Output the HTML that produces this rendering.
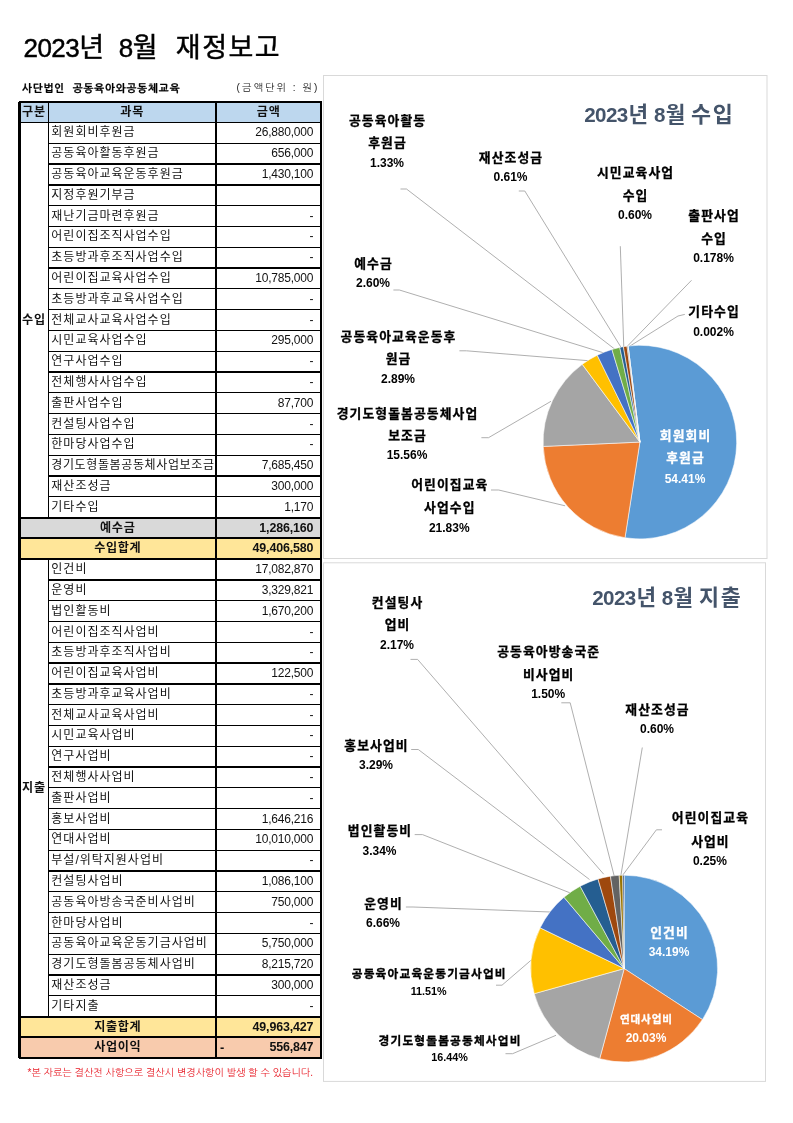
<!DOCTYPE html>
<html lang="ko"><head><meta charset="utf-8"><title>2023년 8월 재정보고</title>
<style>
html,body{margin:0;padding:0;background:#fff;}
body{width:793px;height:1123px;position:relative;overflow:hidden;font-family:"Liberation Sans","Noto Sans CJK KR","NanumGothic",sans-serif;color:#000;}
.abs{position:absolute;}
.title{top:28px;font-size:26px;line-height:40px;white-space:pre;letter-spacing:-0.55px;-webkit-text-stroke:0.45px #000;font-family:"Liberation Sans","Noto Sans CJK KR",sans-serif;}
.title b{font-weight:normal;font-size:27px;letter-spacing:1.5px;}
.org{left:22px;top:80px;font-size:10.5px;line-height:16px;font-weight:bold;white-space:pre;letter-spacing:0.9px;-webkit-text-stroke:0.25px #000;font-family:"Liberation Sans","NanumGothic","Noto Sans CJK KR",sans-serif;}
.unit{left:236.5px;top:80px;font-size:10px;line-height:16px;white-space:pre;letter-spacing:2.1px;color:#222;font-family:"Liberation Sans","NanumGothic","Noto Sans CJK KR",sans-serif;}
.note{left:27.5px;top:1066.3px;font-size:10px;line-height:14px;color:#e8202a;white-space:pre;letter-spacing:0px;font-family:"Liberation Sans","NanumGothic","Noto Sans CJK KR",sans-serif;}
.cell{position:absolute;box-sizing:border-box;white-space:nowrap;font-size:12.85px;color:#111;}
.hl{position:absolute;background:#000;height:1px;}
.vl{position:absolute;background:#000;width:1px;}
.nm{padding-left:3.0px;font-size:12px;letter-spacing:1.0px;}
.am{text-align:right;padding-right:8px;font-size:12px;letter-spacing:-0.2px;}
.b{font-weight:bold;}
.am.b{font-size:12.45px;letter-spacing:-0.15px;}
.c{text-align:center;}
.c.b{font-size:12.1px;letter-spacing:0.7px;}
svg text{font-family:"Liberation Sans","Noto Sans CJK KR","NanumGothic",sans-serif;font-weight:bold;}
</style></head><body>

<div class="abs title" style="left:23.5px">2023<b>년</b></div><div class="abs title" style="left:118.8px">8<b>월</b></div><div class="abs title" style="left:175.8px"><b>재정보고</b></div>
<div class="abs org">사단법인  공동육아와공동체교육</div>
<div class="abs unit">(금액단위 : 원)</div>
<div class="cell c b" style="left:19.60px;top:101.70px;width:28.70px;height:20.79px;line-height:21.79px;background:#BDD7EE;">구분</div>
<div class="cell c b" style="left:48.30px;top:101.70px;width:167.70px;height:20.79px;line-height:21.79px;background:#BDD7EE;">과목</div>
<div class="cell c b" style="left:216.00px;top:101.70px;width:105.30px;height:20.79px;line-height:21.79px;background:#BDD7EE;">금액</div>
<div class="cell nm" style="left:48.30px;top:122.49px;width:167.70px;height:20.79px;line-height:21.79px;">회원회비후원금</div>
<div class="cell am" style="left:216.00px;top:122.49px;width:105.30px;height:20.79px;line-height:21.79px;">26,880,000</div>
<div class="cell nm" style="left:48.30px;top:143.29px;width:167.70px;height:20.79px;line-height:21.79px;">공동육아활동후원금</div>
<div class="cell am" style="left:216.00px;top:143.29px;width:105.30px;height:20.79px;line-height:21.79px;">656,000</div>
<div class="cell nm" style="left:48.30px;top:164.08px;width:167.70px;height:20.79px;line-height:21.79px;">공동육아교육운동후원금</div>
<div class="cell am" style="left:216.00px;top:164.08px;width:105.30px;height:20.79px;line-height:21.79px;">1,430,100</div>
<div class="cell nm" style="left:48.30px;top:184.87px;width:167.70px;height:20.79px;line-height:21.79px;">지정후원기부금</div>
<div class="cell am" style="left:216.00px;top:184.87px;width:105.30px;height:20.79px;line-height:21.79px;"></div>
<div class="cell nm" style="left:48.30px;top:205.67px;width:167.70px;height:20.79px;line-height:21.79px;">재난기금마련후원금</div>
<div class="cell am" style="left:216.00px;top:205.67px;width:105.30px;height:20.79px;line-height:21.79px;">-</div>
<div class="cell nm" style="left:48.30px;top:226.46px;width:167.70px;height:20.79px;line-height:21.79px;">어린이집조직사업수입</div>
<div class="cell am" style="left:216.00px;top:226.46px;width:105.30px;height:20.79px;line-height:21.79px;">-</div>
<div class="cell nm" style="left:48.30px;top:247.25px;width:167.70px;height:20.79px;line-height:21.79px;">초등방과후조직사업수입</div>
<div class="cell am" style="left:216.00px;top:247.25px;width:105.30px;height:20.79px;line-height:21.79px;">-</div>
<div class="cell nm" style="left:48.30px;top:268.04px;width:167.70px;height:20.79px;line-height:21.79px;">어린이집교육사업수입</div>
<div class="cell am" style="left:216.00px;top:268.04px;width:105.30px;height:20.79px;line-height:21.79px;">10,785,000</div>
<div class="cell nm" style="left:48.30px;top:288.84px;width:167.70px;height:20.79px;line-height:21.79px;">초등방과후교육사업수입</div>
<div class="cell am" style="left:216.00px;top:288.84px;width:105.30px;height:20.79px;line-height:21.79px;">-</div>
<div class="cell nm" style="left:48.30px;top:309.63px;width:167.70px;height:20.79px;line-height:21.79px;">전체교사교육사업수입</div>
<div class="cell am" style="left:216.00px;top:309.63px;width:105.30px;height:20.79px;line-height:21.79px;">-</div>
<div class="cell nm" style="left:48.30px;top:330.42px;width:167.70px;height:20.79px;line-height:21.79px;">시민교육사업수입</div>
<div class="cell am" style="left:216.00px;top:330.42px;width:105.30px;height:20.79px;line-height:21.79px;">295,000</div>
<div class="cell nm" style="left:48.30px;top:351.22px;width:167.70px;height:20.79px;line-height:21.79px;">연구사업수입</div>
<div class="cell am" style="left:216.00px;top:351.22px;width:105.30px;height:20.79px;line-height:21.79px;">-</div>
<div class="cell nm" style="left:48.30px;top:372.01px;width:167.70px;height:20.79px;line-height:21.79px;">전체행사사업수입</div>
<div class="cell am" style="left:216.00px;top:372.01px;width:105.30px;height:20.79px;line-height:21.79px;">-</div>
<div class="cell nm" style="left:48.30px;top:392.80px;width:167.70px;height:20.79px;line-height:21.79px;">출판사업수입</div>
<div class="cell am" style="left:216.00px;top:392.80px;width:105.30px;height:20.79px;line-height:21.79px;">87,700</div>
<div class="cell nm" style="left:48.30px;top:413.59px;width:167.70px;height:20.79px;line-height:21.79px;">컨설팅사업수입</div>
<div class="cell am" style="left:216.00px;top:413.59px;width:105.30px;height:20.79px;line-height:21.79px;">-</div>
<div class="cell nm" style="left:48.30px;top:434.39px;width:167.70px;height:20.79px;line-height:21.79px;">한마당사업수입</div>
<div class="cell am" style="left:216.00px;top:434.39px;width:105.30px;height:20.79px;line-height:21.79px;">-</div>
<div class="cell nm" style="left:48.30px;top:455.18px;width:167.70px;height:20.79px;line-height:21.79px;letter-spacing:0.62px;">경기도형돌봄공동체사업보조금</div>
<div class="cell am" style="left:216.00px;top:455.18px;width:105.30px;height:20.79px;line-height:21.79px;">7,685,450</div>
<div class="cell nm" style="left:48.30px;top:475.97px;width:167.70px;height:20.79px;line-height:21.79px;">재산조성금</div>
<div class="cell am" style="left:216.00px;top:475.97px;width:105.30px;height:20.79px;line-height:21.79px;">300,000</div>
<div class="cell nm" style="left:48.30px;top:496.77px;width:167.70px;height:20.79px;line-height:21.79px;">기타수입</div>
<div class="cell am" style="left:216.00px;top:496.77px;width:105.30px;height:20.79px;line-height:21.79px;">1,170</div>
<div class="cell " style="left:19.60px;top:517.56px;width:301.70px;height:20.79px;line-height:21.79px;background:#D9D9D9;"></div>
<div class="cell c b" style="left:19.60px;top:517.56px;width:196.40px;height:20.79px;line-height:21.79px;">예수금</div>
<div class="cell am b" style="left:216.00px;top:517.56px;width:105.30px;height:20.79px;line-height:21.79px;">1,286,160</div>
<div class="cell " style="left:19.60px;top:538.35px;width:301.70px;height:20.79px;line-height:21.79px;background:#FFE699;"></div>
<div class="cell c b" style="left:19.60px;top:538.35px;width:196.40px;height:20.79px;line-height:21.79px;">수입합계</div>
<div class="cell am b" style="left:216.00px;top:538.35px;width:105.30px;height:20.79px;line-height:21.79px;">49,406,580</div>
<div class="cell nm" style="left:48.30px;top:559.15px;width:167.70px;height:20.79px;line-height:21.79px;">인건비</div>
<div class="cell am" style="left:216.00px;top:559.15px;width:105.30px;height:20.79px;line-height:21.79px;">17,082,870</div>
<div class="cell nm" style="left:48.30px;top:579.94px;width:167.70px;height:20.79px;line-height:21.79px;">운영비</div>
<div class="cell am" style="left:216.00px;top:579.94px;width:105.30px;height:20.79px;line-height:21.79px;">3,329,821</div>
<div class="cell nm" style="left:48.30px;top:600.73px;width:167.70px;height:20.79px;line-height:21.79px;">법인활동비</div>
<div class="cell am" style="left:216.00px;top:600.73px;width:105.30px;height:20.79px;line-height:21.79px;">1,670,200</div>
<div class="cell nm" style="left:48.30px;top:621.52px;width:167.70px;height:20.79px;line-height:21.79px;">어린이집조직사업비</div>
<div class="cell am" style="left:216.00px;top:621.52px;width:105.30px;height:20.79px;line-height:21.79px;">-</div>
<div class="cell nm" style="left:48.30px;top:642.32px;width:167.70px;height:20.79px;line-height:21.79px;">초등방과후조직사업비</div>
<div class="cell am" style="left:216.00px;top:642.32px;width:105.30px;height:20.79px;line-height:21.79px;">-</div>
<div class="cell nm" style="left:48.30px;top:663.11px;width:167.70px;height:20.79px;line-height:21.79px;">어린이집교육사업비</div>
<div class="cell am" style="left:216.00px;top:663.11px;width:105.30px;height:20.79px;line-height:21.79px;">122,500</div>
<div class="cell nm" style="left:48.30px;top:683.90px;width:167.70px;height:20.79px;line-height:21.79px;">초등방과후교육사업비</div>
<div class="cell am" style="left:216.00px;top:683.90px;width:105.30px;height:20.79px;line-height:21.79px;">-</div>
<div class="cell nm" style="left:48.30px;top:704.70px;width:167.70px;height:20.79px;line-height:21.79px;">전체교사교육사업비</div>
<div class="cell am" style="left:216.00px;top:704.70px;width:105.30px;height:20.79px;line-height:21.79px;">-</div>
<div class="cell nm" style="left:48.30px;top:725.49px;width:167.70px;height:20.79px;line-height:21.79px;">시민교육사업비</div>
<div class="cell am" style="left:216.00px;top:725.49px;width:105.30px;height:20.79px;line-height:21.79px;">-</div>
<div class="cell nm" style="left:48.30px;top:746.28px;width:167.70px;height:20.79px;line-height:21.79px;">연구사업비</div>
<div class="cell am" style="left:216.00px;top:746.28px;width:105.30px;height:20.79px;line-height:21.79px;">-</div>
<div class="cell nm" style="left:48.30px;top:767.08px;width:167.70px;height:20.79px;line-height:21.79px;">전체행사사업비</div>
<div class="cell am" style="left:216.00px;top:767.08px;width:105.30px;height:20.79px;line-height:21.79px;">-</div>
<div class="cell nm" style="left:48.30px;top:787.87px;width:167.70px;height:20.79px;line-height:21.79px;">출판사업비</div>
<div class="cell am" style="left:216.00px;top:787.87px;width:105.30px;height:20.79px;line-height:21.79px;">-</div>
<div class="cell nm" style="left:48.30px;top:808.66px;width:167.70px;height:20.79px;line-height:21.79px;">홍보사업비</div>
<div class="cell am" style="left:216.00px;top:808.66px;width:105.30px;height:20.79px;line-height:21.79px;">1,646,216</div>
<div class="cell nm" style="left:48.30px;top:829.46px;width:167.70px;height:20.79px;line-height:21.79px;">연대사업비</div>
<div class="cell am" style="left:216.00px;top:829.46px;width:105.30px;height:20.79px;line-height:21.79px;">10,010,000</div>
<div class="cell nm" style="left:48.30px;top:850.25px;width:167.70px;height:20.79px;line-height:21.79px;">부설/위탁지원사업비</div>
<div class="cell am" style="left:216.00px;top:850.25px;width:105.30px;height:20.79px;line-height:21.79px;">-</div>
<div class="cell nm" style="left:48.30px;top:871.04px;width:167.70px;height:20.79px;line-height:21.79px;">컨설팅사업비</div>
<div class="cell am" style="left:216.00px;top:871.04px;width:105.30px;height:20.79px;line-height:21.79px;">1,086,100</div>
<div class="cell nm" style="left:48.30px;top:891.83px;width:167.70px;height:20.79px;line-height:21.79px;">공동육아방송국준비사업비</div>
<div class="cell am" style="left:216.00px;top:891.83px;width:105.30px;height:20.79px;line-height:21.79px;">750,000</div>
<div class="cell nm" style="left:48.30px;top:912.63px;width:167.70px;height:20.79px;line-height:21.79px;">한마당사업비</div>
<div class="cell am" style="left:216.00px;top:912.63px;width:105.30px;height:20.79px;line-height:21.79px;">-</div>
<div class="cell nm" style="left:48.30px;top:933.42px;width:167.70px;height:20.79px;line-height:21.79px;">공동육아교육운동기금사업비</div>
<div class="cell am" style="left:216.00px;top:933.42px;width:105.30px;height:20.79px;line-height:21.79px;">5,750,000</div>
<div class="cell nm" style="left:48.30px;top:954.21px;width:167.70px;height:20.79px;line-height:21.79px;">경기도형돌봄공동체사업비</div>
<div class="cell am" style="left:216.00px;top:954.21px;width:105.30px;height:20.79px;line-height:21.79px;">8,215,720</div>
<div class="cell nm" style="left:48.30px;top:975.01px;width:167.70px;height:20.79px;line-height:21.79px;">재산조성금</div>
<div class="cell am" style="left:216.00px;top:975.01px;width:105.30px;height:20.79px;line-height:21.79px;">300,000</div>
<div class="cell nm" style="left:48.30px;top:995.80px;width:167.70px;height:20.79px;line-height:21.79px;">기타지출</div>
<div class="cell am" style="left:216.00px;top:995.80px;width:105.30px;height:20.79px;line-height:21.79px;">-</div>
<div class="cell " style="left:19.60px;top:1016.59px;width:301.70px;height:20.79px;line-height:21.79px;background:#FFE699;"></div>
<div class="cell c b" style="left:19.60px;top:1016.59px;width:196.40px;height:20.79px;line-height:21.79px;">지출합계</div>
<div class="cell am b" style="left:216.00px;top:1016.59px;width:105.30px;height:20.79px;line-height:21.79px;">49,963,427</div>
<div class="cell " style="left:19.60px;top:1037.38px;width:301.70px;height:20.79px;line-height:21.79px;background:#F8CBAD;"></div>
<div class="cell c b" style="left:19.60px;top:1037.38px;width:196.40px;height:20.79px;line-height:21.79px;">사업이익</div>
<div class="cell am b" style="left:216.00px;top:1037.38px;width:105.30px;height:20.79px;line-height:21.79px;">556,847</div>
<div class="cell b" style="left:216.00px;top:1037.38px;width:105.30px;height:20.79px;line-height:21.79px;padding-left:4px;">-</div>
<div class="cell c b" style="left:19.60px;top:122.49px;width:28.70px;height:395.07px;line-height:396.07px;">수입</div>
<div class="cell c b" style="left:19.60px;top:559.15px;width:28.70px;height:457.45px;line-height:458.45px;">지출</div>
<div class="hl" style="left:18.50px;top:100.55px;width:303.90px;height:2.3px"></div>
<div class="hl" style="left:19.60px;top:121.69px;width:301.70px;height:1.6px"></div>
<div class="hl" style="left:48.30px;top:142.66px;width:273.00px;height:1.25px"></div>
<div class="hl" style="left:48.30px;top:163.45px;width:273.00px;height:1.25px"></div>
<div class="hl" style="left:48.30px;top:184.25px;width:273.00px;height:1.25px"></div>
<div class="hl" style="left:48.30px;top:205.04px;width:273.00px;height:1.25px"></div>
<div class="hl" style="left:48.30px;top:225.83px;width:273.00px;height:1.25px"></div>
<div class="hl" style="left:48.30px;top:246.63px;width:273.00px;height:1.25px"></div>
<div class="hl" style="left:48.30px;top:267.42px;width:273.00px;height:1.25px"></div>
<div class="hl" style="left:48.30px;top:288.21px;width:273.00px;height:1.25px"></div>
<div class="hl" style="left:48.30px;top:309.00px;width:273.00px;height:1.25px"></div>
<div class="hl" style="left:48.30px;top:329.80px;width:273.00px;height:1.25px"></div>
<div class="hl" style="left:48.30px;top:350.59px;width:273.00px;height:1.25px"></div>
<div class="hl" style="left:48.30px;top:371.38px;width:273.00px;height:1.25px"></div>
<div class="hl" style="left:48.30px;top:392.18px;width:273.00px;height:1.25px"></div>
<div class="hl" style="left:48.30px;top:412.97px;width:273.00px;height:1.25px"></div>
<div class="hl" style="left:48.30px;top:433.76px;width:273.00px;height:1.25px"></div>
<div class="hl" style="left:48.30px;top:454.56px;width:273.00px;height:1.25px"></div>
<div class="hl" style="left:48.30px;top:475.35px;width:273.00px;height:1.25px"></div>
<div class="hl" style="left:48.30px;top:496.14px;width:273.00px;height:1.25px"></div>
<div class="hl" style="left:19.60px;top:516.56px;width:301.70px;height:2.0px"></div>
<div class="hl" style="left:19.60px;top:537.35px;width:301.70px;height:2.0px"></div>
<div class="hl" style="left:19.60px;top:558.15px;width:301.70px;height:2.0px"></div>
<div class="hl" style="left:48.30px;top:579.31px;width:273.00px;height:1.25px"></div>
<div class="hl" style="left:48.30px;top:600.11px;width:273.00px;height:1.25px"></div>
<div class="hl" style="left:48.30px;top:620.90px;width:273.00px;height:1.25px"></div>
<div class="hl" style="left:48.30px;top:641.69px;width:273.00px;height:1.25px"></div>
<div class="hl" style="left:48.30px;top:662.49px;width:273.00px;height:1.25px"></div>
<div class="hl" style="left:48.30px;top:683.28px;width:273.00px;height:1.25px"></div>
<div class="hl" style="left:48.30px;top:704.07px;width:273.00px;height:1.25px"></div>
<div class="hl" style="left:48.30px;top:724.87px;width:273.00px;height:1.25px"></div>
<div class="hl" style="left:48.30px;top:745.66px;width:273.00px;height:1.25px"></div>
<div class="hl" style="left:48.30px;top:766.45px;width:273.00px;height:1.25px"></div>
<div class="hl" style="left:48.30px;top:787.24px;width:273.00px;height:1.25px"></div>
<div class="hl" style="left:48.30px;top:808.04px;width:273.00px;height:1.25px"></div>
<div class="hl" style="left:48.30px;top:828.83px;width:273.00px;height:1.25px"></div>
<div class="hl" style="left:48.30px;top:849.62px;width:273.00px;height:1.25px"></div>
<div class="hl" style="left:48.30px;top:870.42px;width:273.00px;height:1.25px"></div>
<div class="hl" style="left:48.30px;top:891.21px;width:273.00px;height:1.25px"></div>
<div class="hl" style="left:48.30px;top:912.00px;width:273.00px;height:1.25px"></div>
<div class="hl" style="left:48.30px;top:932.80px;width:273.00px;height:1.25px"></div>
<div class="hl" style="left:48.30px;top:953.59px;width:273.00px;height:1.25px"></div>
<div class="hl" style="left:48.30px;top:974.38px;width:273.00px;height:1.25px"></div>
<div class="hl" style="left:48.30px;top:995.17px;width:273.00px;height:1.25px"></div>
<div class="hl" style="left:19.60px;top:1015.59px;width:301.70px;height:2.0px"></div>
<div class="hl" style="left:19.60px;top:1036.38px;width:301.70px;height:2.0px"></div>
<div class="hl" style="left:18.50px;top:1057.03px;width:303.90px;height:2.3px"></div>
<div class="vl" style="left:18.45px;top:101.70px;height:956.48px;width:2.3px"></div>
<div class="vl" style="left:320.15px;top:101.70px;height:956.48px;width:2.3px"></div>
<div class="vl" style="left:215.30px;top:101.70px;height:956.48px;width:1.4px"></div>
<div class="vl" style="left:47.55px;top:101.70px;height:415.86px;width:1.5px"></div>
<div class="vl" style="left:47.55px;top:559.15px;height:457.45px;width:1.5px"></div>
<div class="abs note">*본 자료는 결산전 사항으로 결산시 변경사항이 발생 할 수 있습니다.</div>
<svg class="abs" style="left:0;top:0" width="793" height="1123" viewBox="0 0 793 1123">
<rect x="323.5" y="75.5" width="443.5" height="483" fill="#fff" stroke="#D9D9D9" stroke-width="1"/>
<rect x="323.5" y="562.8" width="442" height="518.6" fill="#fff" stroke="#D9D9D9" stroke-width="1"/>
<text y="121.7" fill="#44546A" font-size="20.6"><tspan x="584.2" letter-spacing="-0.6">2023</tspan><tspan font-size="21.3" dx="0.8">년</tspan><tspan x="654.0">8</tspan><tspan font-size="21.3" dx="0.2">월</tspan><tspan x="691.0" font-size="21.8" letter-spacing="1.6">수입</tspan></text>
<text y="605.3" fill="#44546A" font-size="20.6"><tspan x="592.2" letter-spacing="-0.6">2023</tspan><tspan font-size="21.3" dx="0.8">년</tspan><tspan x="661.8">8</tspan><tspan font-size="21.3" dx="0.2">월</tspan><tspan x="699.0" font-size="21.8" letter-spacing="1.6">지출</tspan></text>
<path d="M400.5,189.0 L406.5,189.0 L615.9,350.0" fill="none" stroke="#A6A6A6" stroke-width="0.9"/>
<path d="M518.8,191.0 L524.8,191.0 L621.2,347.6" fill="none" stroke="#A6A6A6" stroke-width="0.9"/>
<path d="M620.3,246.2 L623.8,347.4" fill="none" stroke="#A6A6A6" stroke-width="0.9"/>
<path d="M691.5,280.3 L626.2,347.4" fill="none" stroke="#A6A6A6" stroke-width="0.9"/>
<path d="M684.8,314.4 L678.0,316.0 L627.8,347.4" fill="none" stroke="#A6A6A6" stroke-width="0.9"/>
<path d="M393.4,290.0 L399.4,290.0 L606.0,353.6" fill="none" stroke="#A6A6A6" stroke-width="0.9"/>
<path d="M459.4,350.8 L466.5,350.8 L588.3,360.7" fill="none" stroke="#A6A6A6" stroke-width="0.9"/>
<path d="M481.4,437.7 L488.5,437.7 L551.0,401.3" fill="none" stroke="#A6A6A6" stroke-width="0.9"/>
<path d="M491.0,490.0 L498.7,490.0 L565.1,505.8" fill="none" stroke="#A6A6A6" stroke-width="0.9"/>
<path d="M639.90,442.10L628.10,346.02A96.8,96.8 0 1 1 625.00,537.75Z" fill="#5B9BD5" stroke="#fff" stroke-width="0.55" stroke-linejoin="round"/>
<path d="M639.90,442.10L625.00,537.75A96.8,96.8 0 0 1 543.20,446.43Z" fill="#ED7D31" stroke="#fff" stroke-width="0.55" stroke-linejoin="round"/>
<path d="M639.90,442.10L543.20,446.43A96.8,96.8 0 0 1 582.25,364.34Z" fill="#A5A5A5" stroke="#fff" stroke-width="0.55" stroke-linejoin="round"/>
<path d="M639.90,442.10L582.25,364.34A96.8,96.8 0 0 1 597.24,355.21Z" fill="#FFC000" stroke="#fff" stroke-width="0.55" stroke-linejoin="round"/>
<path d="M639.90,442.10L597.24,355.21A96.8,96.8 0 0 1 611.94,349.43Z" fill="#4472C4" stroke="#fff" stroke-width="0.55" stroke-linejoin="round"/>
<path d="M639.90,442.10L611.94,349.43A96.8,96.8 0 0 1 619.77,347.42Z" fill="#70AD47" stroke="#fff" stroke-width="0.55" stroke-linejoin="round"/>
<path d="M639.90,442.10L619.77,347.42A96.8,96.8 0 0 1 623.41,346.71Z" fill="#255E91" stroke="#fff" stroke-width="0.55" stroke-linejoin="round"/>
<path d="M639.90,442.10L623.41,346.71A96.8,96.8 0 0 1 627.02,346.16Z" fill="#9E480E" stroke="#fff" stroke-width="0.55" stroke-linejoin="round"/>
<path d="M639.90,442.10L627.02,346.16A96.8,96.8 0 0 1 628.09,346.02Z" fill="#636363" stroke="#fff" stroke-width="0.55" stroke-linejoin="round"/>
<path d="M639.90,442.10L628.09,346.02A96.8,96.8 0 0 1 628.10,346.02Z" fill="#997300" stroke="#fff" stroke-width="0.55" stroke-linejoin="round"/>
<text x="387.55" y="120" font-size="12.8" fill="#000" text-anchor="middle" dominant-baseline="central" letter-spacing="1.1" stroke="#000" stroke-width="0.3">공동육아활동</text>
<text x="387.55" y="142.5" font-size="12.8" fill="#000" text-anchor="middle" dominant-baseline="central" letter-spacing="1.1" stroke="#000" stroke-width="0.3">후원금</text>
<text x="387.00" y="163.3" font-size="12" fill="#000" text-anchor="middle" dominant-baseline="central">1.33%</text>
<text x="511.05" y="157.2" font-size="12.8" fill="#000" text-anchor="middle" dominant-baseline="central" letter-spacing="1.1" stroke="#000" stroke-width="0.3">재산조성금</text>
<text x="510.50" y="176.8" font-size="12" fill="#000" text-anchor="middle" dominant-baseline="central">0.61%</text>
<text x="635.55" y="172.8" font-size="12.8" fill="#000" text-anchor="middle" dominant-baseline="central" letter-spacing="1.1" stroke="#000" stroke-width="0.3">시민교육사업</text>
<text x="635.55" y="195" font-size="12.8" fill="#000" text-anchor="middle" dominant-baseline="central" letter-spacing="1.1" stroke="#000" stroke-width="0.3">수입</text>
<text x="635.00" y="215.3" font-size="12" fill="#000" text-anchor="middle" dominant-baseline="central">0.60%</text>
<text x="714.05" y="215.3" font-size="12.8" fill="#000" text-anchor="middle" dominant-baseline="central" letter-spacing="1.1" stroke="#000" stroke-width="0.3">출판사업</text>
<text x="714.05" y="238" font-size="12.8" fill="#000" text-anchor="middle" dominant-baseline="central" letter-spacing="1.1" stroke="#000" stroke-width="0.3">수입</text>
<text x="713.50" y="258.2" font-size="12" fill="#000" text-anchor="middle" dominant-baseline="central">0.178%</text>
<text x="714.05" y="311.2" font-size="12.8" fill="#000" text-anchor="middle" dominant-baseline="central" letter-spacing="1.1" stroke="#000" stroke-width="0.3">기타수입</text>
<text x="713.50" y="331.8" font-size="12" fill="#000" text-anchor="middle" dominant-baseline="central">0.002%</text>
<text x="373.55" y="263" font-size="12.8" fill="#000" text-anchor="middle" dominant-baseline="central" letter-spacing="1.1" stroke="#000" stroke-width="0.3">예수금</text>
<text x="373.00" y="283" font-size="12" fill="#000" text-anchor="middle" dominant-baseline="central">2.60%</text>
<text x="398.55" y="336" font-size="12.8" fill="#000" text-anchor="middle" dominant-baseline="central" letter-spacing="1.1" stroke="#000" stroke-width="0.3">공동육아교육운동후</text>
<text x="398.55" y="358" font-size="12.8" fill="#000" text-anchor="middle" dominant-baseline="central" letter-spacing="1.1" stroke="#000" stroke-width="0.3">원금</text>
<text x="398.00" y="379" font-size="12" fill="#000" text-anchor="middle" dominant-baseline="central">2.89%</text>
<text x="407.55" y="413.7" font-size="12.8" fill="#000" text-anchor="middle" dominant-baseline="central" letter-spacing="1.1" stroke="#000" stroke-width="0.3">경기도형돌봄공동체사업</text>
<text x="407.55" y="435.9" font-size="12.8" fill="#000" text-anchor="middle" dominant-baseline="central" letter-spacing="1.1" stroke="#000" stroke-width="0.3">보조금</text>
<text x="407.00" y="455.3" font-size="12" fill="#000" text-anchor="middle" dominant-baseline="central">15.56%</text>
<text x="449.85" y="484.6" font-size="12.8" fill="#000" text-anchor="middle" dominant-baseline="central" letter-spacing="1.1" stroke="#000" stroke-width="0.3">어린이집교육</text>
<text x="449.85" y="507.2" font-size="12.8" fill="#000" text-anchor="middle" dominant-baseline="central" letter-spacing="1.1" stroke="#000" stroke-width="0.3">사업수입</text>
<text x="449.30" y="527.7" font-size="12" fill="#000" text-anchor="middle" dominant-baseline="central">21.83%</text>
<text x="685.55" y="435.8" font-size="12.8" fill="#fff" text-anchor="middle" dominant-baseline="central" letter-spacing="1.1" stroke="#fff" stroke-width="0.3">회원회비</text>
<text x="685.55" y="457.6" font-size="12.8" fill="#fff" text-anchor="middle" dominant-baseline="central" letter-spacing="1.1" stroke="#fff" stroke-width="0.3">후원금</text>
<text x="685.00" y="478.9" font-size="12" fill="#fff" text-anchor="middle" dominant-baseline="central">54.41%</text>
<path d="M410.5,659.4 L417.6,659.4 L603.7,874.2" fill="none" stroke="#A6A6A6" stroke-width="0.9"/>
<path d="M561.3,702.8 L570.2,702.8 L614.4,876.8" fill="none" stroke="#A6A6A6" stroke-width="0.9"/>
<path d="M642.3,747.5 L620.8,875.9" fill="none" stroke="#A6A6A6" stroke-width="0.9"/>
<path d="M662.0,829.8 L656.4,829.8 L622.6,875.3" fill="none" stroke="#A6A6A6" stroke-width="0.9"/>
<path d="M411.2,749.5 L418.3,749.5 L589.5,879.5" fill="none" stroke="#A6A6A6" stroke-width="0.9"/>
<path d="M414.7,834.6 L422.5,834.6 L570.1,892.9" fill="none" stroke="#A6A6A6" stroke-width="0.9"/>
<path d="M405.9,907.0 L413.0,907.0 L550.7,912.0" fill="none" stroke="#A6A6A6" stroke-width="0.9"/>
<path d="M496.0,985.2 L502.0,985.2 L532.0,959.4" fill="none" stroke="#A6A6A6" stroke-width="0.9"/>
<path d="M505.5,1053.7 L512.6,1053.7 L556.0,1035.3" fill="none" stroke="#A6A6A6" stroke-width="0.9"/>
<path d="M624.20,968.60L624.20,875.20A93.4,93.4 0 0 1 702.44,1019.62Z" fill="#5B9BD5" stroke="#fff" stroke-width="0.55" stroke-linejoin="round"/>
<path d="M624.20,968.60L702.44,1019.62A93.4,93.4 0 0 1 599.66,1058.72Z" fill="#ED7D31" stroke="#fff" stroke-width="0.55" stroke-linejoin="round"/>
<path d="M624.20,968.60L599.66,1058.72A93.4,93.4 0 0 1 534.23,993.67Z" fill="#A5A5A5" stroke="#fff" stroke-width="0.55" stroke-linejoin="round"/>
<path d="M624.20,968.60L534.23,993.67A93.4,93.4 0 0 1 540.16,927.84Z" fill="#FFC000" stroke="#fff" stroke-width="0.55" stroke-linejoin="round"/>
<path d="M624.20,968.60L540.16,927.84A93.4,93.4 0 0 1 563.98,897.21Z" fill="#4472C4" stroke="#fff" stroke-width="0.55" stroke-linejoin="round"/>
<path d="M624.20,968.60L563.98,897.21A93.4,93.4 0 0 1 580.18,886.23Z" fill="#70AD47" stroke="#fff" stroke-width="0.55" stroke-linejoin="round"/>
<path d="M624.20,968.60L580.18,886.23A93.4,93.4 0 0 1 598.02,878.94Z" fill="#255E91" stroke="#fff" stroke-width="0.55" stroke-linejoin="round"/>
<path d="M624.20,968.60L598.02,878.94A93.4,93.4 0 0 1 610.46,876.22Z" fill="#9E480E" stroke="#fff" stroke-width="0.55" stroke-linejoin="round"/>
<path d="M624.20,968.60L610.46,876.22A93.4,93.4 0 0 1 619.21,875.33Z" fill="#636363" stroke="#fff" stroke-width="0.55" stroke-linejoin="round"/>
<path d="M624.20,968.60L619.21,875.33A93.4,93.4 0 0 1 622.73,875.21Z" fill="#997300" stroke="#fff" stroke-width="0.55" stroke-linejoin="round"/>
<path d="M624.20,968.60L622.73,875.21A93.4,93.4 0 0 1 624.20,875.20Z" fill="#264478" stroke="#fff" stroke-width="0.55" stroke-linejoin="round"/>
<text x="397.55" y="602" font-size="12.8" fill="#000" text-anchor="middle" dominant-baseline="central" letter-spacing="1.1" stroke="#000" stroke-width="0.3">컨설팅사</text>
<text x="397.55" y="624.8" font-size="12.8" fill="#000" text-anchor="middle" dominant-baseline="central" letter-spacing="1.1" stroke="#000" stroke-width="0.3">업비</text>
<text x="397.00" y="644.6" font-size="12" fill="#000" text-anchor="middle" dominant-baseline="central">2.17%</text>
<text x="548.75" y="651.7" font-size="12.8" fill="#000" text-anchor="middle" dominant-baseline="central" letter-spacing="1.1" stroke="#000" stroke-width="0.3">공동육아방송국준</text>
<text x="548.75" y="674.6" font-size="12.8" fill="#000" text-anchor="middle" dominant-baseline="central" letter-spacing="1.1" stroke="#000" stroke-width="0.3">비사업비</text>
<text x="548.20" y="694" font-size="12" fill="#000" text-anchor="middle" dominant-baseline="central">1.50%</text>
<text x="657.55" y="709" font-size="12.8" fill="#000" text-anchor="middle" dominant-baseline="central" letter-spacing="1.1" stroke="#000" stroke-width="0.3">재산조성금</text>
<text x="657.00" y="729" font-size="12" fill="#000" text-anchor="middle" dominant-baseline="central">0.60%</text>
<text x="710.45" y="817.7" font-size="12.8" fill="#000" text-anchor="middle" dominant-baseline="central" letter-spacing="1.1" stroke="#000" stroke-width="0.3">어린이집교육</text>
<text x="710.45" y="841.2" font-size="12.8" fill="#000" text-anchor="middle" dominant-baseline="central" letter-spacing="1.1" stroke="#000" stroke-width="0.3">사업비</text>
<text x="709.90" y="860.6" font-size="12" fill="#000" text-anchor="middle" dominant-baseline="central">0.25%</text>
<text x="376.55" y="745.3" font-size="12.8" fill="#000" text-anchor="middle" dominant-baseline="central" letter-spacing="1.1" stroke="#000" stroke-width="0.3">홍보사업비</text>
<text x="376.00" y="764.7" font-size="12" fill="#000" text-anchor="middle" dominant-baseline="central">3.29%</text>
<text x="380.05" y="830.7" font-size="12.8" fill="#000" text-anchor="middle" dominant-baseline="central" letter-spacing="1.1" stroke="#000" stroke-width="0.3">법인활동비</text>
<text x="379.50" y="850.5" font-size="12" fill="#000" text-anchor="middle" dominant-baseline="central">3.34%</text>
<text x="383.55" y="903.1" font-size="12.8" fill="#000" text-anchor="middle" dominant-baseline="central" letter-spacing="1.1" stroke="#000" stroke-width="0.3">운영비</text>
<text x="383.00" y="922.5" font-size="12" fill="#000" text-anchor="middle" dominant-baseline="central">6.66%</text>
<text x="429.28" y="973.5" font-size="11.7" fill="#000" text-anchor="middle" dominant-baseline="central" letter-spacing="1.17" stroke="#000" stroke-width="0.3">공동육아교육운동기금사업비</text>
<text x="428.70" y="991.2" font-size="10.8" fill="#000" text-anchor="middle" dominant-baseline="central">11.51%</text>
<text x="450.08" y="1040.6" font-size="11.7" fill="#000" text-anchor="middle" dominant-baseline="central" letter-spacing="1.17" stroke="#000" stroke-width="0.3">경기도형돌봄공동체사업비</text>
<text x="449.50" y="1056.5" font-size="10.8" fill="#000" text-anchor="middle" dominant-baseline="central">16.44%</text>
<text x="669.55" y="932" font-size="12.8" fill="#fff" text-anchor="middle" dominant-baseline="central" letter-spacing="1.1" stroke="#fff" stroke-width="0.3">인건비</text>
<text x="669.00" y="951.5" font-size="12" fill="#fff" text-anchor="middle" dominant-baseline="central">34.19%</text>
<text x="646.42" y="1018.5" font-size="10.6" fill="#fff" text-anchor="middle" dominant-baseline="central" letter-spacing="0.85" stroke="#fff" stroke-width="0.3">연대사업비</text>
<text x="646.00" y="1037.5" font-size="12" fill="#fff" text-anchor="middle" dominant-baseline="central">20.03%</text>
</svg>
</body></html>
